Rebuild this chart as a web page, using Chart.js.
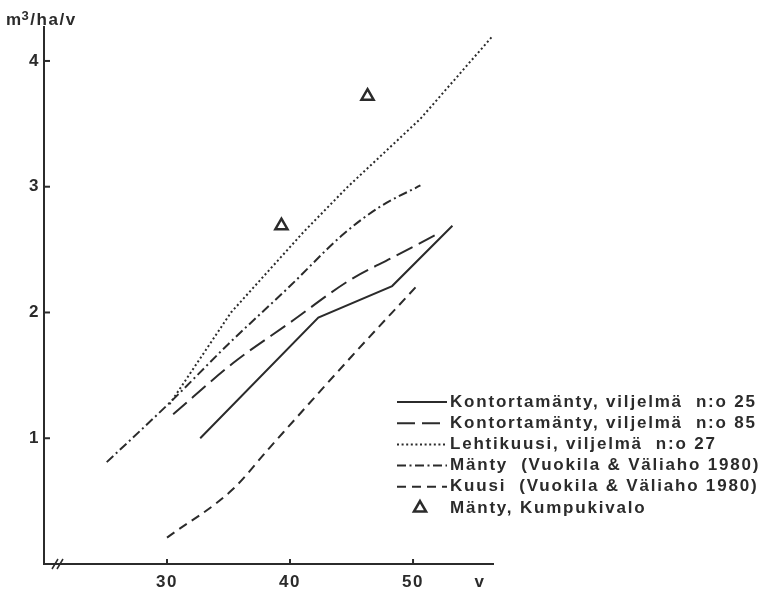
<!DOCTYPE html>
<html>
<head>
<meta charset="utf-8">
<script src="https://cdn.jsdelivr.net/npm/chart.js@4"></script>
<style>
    html, body { margin: 0; padding: 0; background: #fff; }
    #wrap { width: 769px; height: 591px; }
</style>
</head>
<body>
<div id="wrap"><canvas id="chart" width="769" height="591"></canvas></div>
<script>
// tick labels
const xTicks = [30, 40, 50];
const yTicks = [1, 2, 3, 4];

// series names (legend)
const seriesNames = [
    'Kontortamänty, viljelmä  n:o 25',
    'Kontortamänty, viljelmä  n:o 85',
    'Lehtikuusi, viljelmä  n:o 27',
    'Mänty  (Vuokila & Väliaho 1980)',
    'Kuusi  (Vuokila & Väliaho 1980)',
    'Mänty, Kumpukivalo'
];

// values: age (v) and growth (m3/ha/v)
const kontorta25X = [32.7, 42.3, 48.3, 53.2];
const kontorta25Y = [1.0, 1.96, 2.21, 2.69];

const kontorta85X = [30.5, 35.4, 40, 44.9, 48.4, 51.9];
const kontorta85Y = [1.19, 1.6, 1.92, 2.26, 2.44, 2.62];

const lehtikuusiX = [30.2, 35.2, 41.1, 44.7, 50.6, 56.4];
const lehtikuusiY = [1.27, 2.0, 2.64, 3.0, 3.54, 4.19];

const mantyX = [25.1, 30.3, 35, 40, 44.3, 47.3, 50.6];
const mantyY = [0.81, 1.29, 1.75, 2.21, 2.62, 2.84, 3.01];

const kuusiX = [30, 35.3, 38.3, 45, 50.3];
const kuusiY = [0.21, 0.59, 0.92, 1.65, 2.21];

const kumpuX = [39.3, 46.3];
const kumpuY = [2.69, 3.72];

const ink = '#2b2b2b';
const font = '"Liberation Sans", Arial, sans-serif';

function pts(xs, ys) {
    return xs.map((x, i) => ({ x: x, y: ys[i] }));
}

function lineSet(label, xs, ys, dash, smooth) {
    return {
        label: label,
        data: pts(xs, ys),
        showLine: true,
        borderColor: ink,
        borderWidth: 2,
        borderDash: dash,
        pointRadius: 0,
        fill: false,
        cubicInterpolationMode: smooth ? 'monotone' : 'default',
        tension: 0
    };
}

const datasets = [
    lineSet(seriesNames[0], kontorta25X, kontorta25Y, [], false),
    lineSet(seriesNames[1], kontorta85X, kontorta85Y, [18, 7], true),
    lineSet(seriesNames[2], lehtikuusiX, lehtikuusiY, [2, 2.6], false),
    lineSet(seriesNames[3], mantyX, mantyY, [9, 3.5, 2, 3.5], true),
    lineSet(seriesNames[4], kuusiX, kuusiY, [9, 6], true),
    {
        label: seriesNames[5],
        data: pts(kumpuX, kumpuY),
        showLine: false,
        pointStyle: 'triangle',
        pointRadius: 7,
        pointBorderWidth: 2.5,
        pointBorderColor: ink,
        pointBackgroundColor: 'rgba(0,0,0,0)'
    }
];

// inner tick marks, axis break, axis titles and the legend
const decorations = {
    id: 'decorations',
    beforeDraw(chart) {
        chart.ctx.letterSpacing = '1.5px';
    },
    afterDraw(chart) {
        const ctx = chart.ctx;
        const xs = chart.scales.x;
        const ys = chart.scales.y;
        const area = chart.chartArea;
        ctx.save();
        ctx.strokeStyle = ink;
        ctx.fillStyle = ink;
        ctx.lineWidth = 2;
        ctx.setLineDash([]);

        xTicks.forEach(v => {
            const px = xs.getPixelForValue(v);
            ctx.beginPath();
            ctx.moveTo(px, area.bottom);
            ctx.lineTo(px, area.bottom - 5);
            ctx.stroke();
        });
        yTicks.forEach(v => {
            const py = ys.getPixelForValue(v);
            ctx.beginPath();
            ctx.moveTo(area.left, py);
            ctx.lineTo(area.left + 6, py);
            ctx.stroke();
        });

        // axis break
        ctx.lineWidth = 1.5;
        [52, 57].forEach(bx => {
            ctx.beginPath();
            ctx.moveTo(bx, area.bottom + 5);
            ctx.lineTo(bx + 6, area.bottom - 5);
            ctx.stroke();
        });

        // axis titles
        ctx.letterSpacing = '1.5px';
        ctx.textBaseline = 'alphabetic';
        ctx.textAlign = 'left';
        ctx.font = 'bold 17px ' + font;
        ctx.fillText('m', 6, 25);
        const mw = ctx.measureText('m').width;
        ctx.font = 'bold 13px ' + font;
        ctx.fillText('3', 5 + mw, 20);
        const tw = ctx.measureText('3').width;
        ctx.font = 'bold 17px ' + font;
        ctx.fillText('/ha/v', 5 + mw + tw, 25);
        ctx.textAlign = 'center';
        ctx.fillText('v', 480, 587);

        // legend
        ctx.letterSpacing = '1.8px';
        ctx.textAlign = 'left';
        ctx.textBaseline = 'middle';
        chart.data.datasets.forEach((ds, i) => {
            const y = 402 + i * 21.2;
            if (ds.showLine) {
                ctx.lineWidth = 2;
                ctx.setLineDash(ds.borderDash);
                ctx.beginPath();
                ctx.moveTo(397, y);
                ctx.lineTo(447, y);
                ctx.stroke();
                ctx.setLineDash([]);
            } else {
                ctx.lineWidth = 2.5;
                const r = 7;
                ctx.beginPath();
                ctx.moveTo(420, y - r);
                ctx.lineTo(420 + r * 0.866, y + r * 0.5);
                ctx.lineTo(420 - r * 0.866, y + r * 0.5);
                ctx.closePath();
                ctx.stroke();
            }
            ctx.font = 'bold 17px ' + font;
            ctx.fillText(ds.label, 450, y);
        });
        ctx.restore();
    }
};

new Chart(document.getElementById('chart'), {
    type: 'scatter',
    data: { datasets: datasets },
    options: {
        responsive: false,
        devicePixelRatio: 1,
        animation: false,
        layout: { padding: { left: 0, top: 27, right: 276, bottom: 0 } },
        plugins: {
            legend: { display: false },
            tooltip: { enabled: false }
        },
        scales: {
            x: {
                type: 'linear',
                min: 20,
                max: 56.5,
                afterFit: s => { s.height = 27; },
                afterBuildTicks: s => { s.ticks = xTicks.map(v => ({ value: v })); },
                grid: { display: true, drawOnChartArea: false, drawTicks: false },
                border: { display: true, color: ink, width: 2 },
                ticks: {
                    padding: 8,
                    color: ink,
                    font: { family: font, size: 17, weight: 'bold' },
                    maxRotation: 0
                }
            },
            y: {
                type: 'linear',
                min: 0,
                max: 4.27,
                afterFit: s => { s.width = 44; },
                afterBuildTicks: s => { s.ticks = yTicks.map(v => ({ value: v })); },
                grid: { display: true, drawOnChartArea: false, drawTicks: false },
                border: { display: true, color: ink, width: 2 },
                ticks: {
                    padding: 4,
                    color: ink,
                    font: { family: font, size: 17, weight: 'bold' }
                }
            }
        }
    },
    plugins: [decorations]
});
</script>
</body>
</html>
